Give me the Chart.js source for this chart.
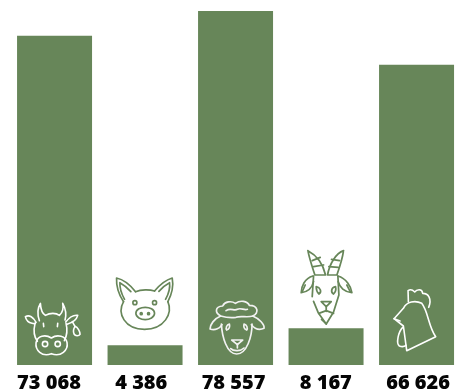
<!DOCTYPE html>
<html><head><meta charset="utf-8">
<style>html,body{margin:0;padding:0;background:#fff}#w{width:465px;height:389px;position:relative}</style>
<script src="https://cdn.jsdelivr.net/npm/chart.js@4"></script></head>
<body><div id="w"><canvas id="c"></canvas></div>
<script>
const tickLabels = ['73 068','4 386','78 557','8 167','66 626'];
const values = [73068,4386,78557,8167,66626];
const GREEN = '#678659';
const icons = [
 {cx:163.5,cy:285,color:'#fff',w:4.8,d:[
  'M118,152 C112,135 112,115 121,100 C122,118 126,130 136,136 C150,128 168,128 178,136 C187,128 191,115 188,100 C198,118 199,135 195,150',
  'M108,157 C100,142 88,133 76,140 C78,150 86,158 96,160 C100,161 104,161 106,160',
  'M197,156 C208,142 220,134 233,136 C230,148 220,157 201,163',
  'M105,160 C100,180 102,200 112,214','M198,160 C203,180 200,198 193,212',
  'M154,204 C135,192 112,198 108,218 C105,240 125,262 154,251 C183,262 205,240 201,218 C197,198 172,192 154,204',
  'M143,222 A8,8 0 1 1 127,222 A8,8 0 1 1 143,222','M181,222 A8,8 0 1 1 165,222 A8,8 0 1 1 181,222',
  'M130,160 L131,170','M173,160 L172,170','M217,155 L225,170',
  'M225,169 C233,172 240,185 240,193 C236,199 226,199 222,192 C219,185 221,175 225,169']},
 {cx:436.5,cy:285,color:GREEN,w:5,d:[
  'M372,95 C355,70 350,45 351,24 C370,28 392,45 408,65','M375,88 C365,70 360,55 361,38 C372,44 385,55 394,65',
  'M505,95 C518,70 522,45 518,24 C498,30 480,45 465,63','M498,88 C508,70 512,52 510,38 C498,44 486,55 478,64',
  'M408,65 C425,58 450,58 465,63',
  'M372,95 C352,130 375,178 435,178 C495,178 520,130 505,95',
  'M465,130 C465,118 450,112 437,112 C424,112 409,118 409,130 C409,142 424,149 437,149 C450,149 465,142 465,130',
  'M428,131 A3,3 0 1 1 422,131 A3,3 0 1 1 428,131','M450,131 A3,3 0 1 1 444,131 A3,3 0 1 1 450,131',
  'M412,98 A6,6 0 1 1 400,98 A6,6 0 1 1 412,98','M471,98 A6,6 0 1 1 459,98 A6,6 0 1 1 471,98']},
 {cx:136.5,cy:375,color:'#f2f2f2',w:5,d:[
  'M92,228 C74,218 74,200 98,198 C104,184 124,182 136,190 C150,180 172,182 178,196 C204,196 208,218 188,228 C172,234 152,226 138,232 C122,234 106,232 92,228',
  'M108,212 C122,202 132,214 142,208 C152,202 162,212 172,208',
  'M92,228 C72,236 60,254 60,267 C76,273 90,264 96,254','M188,228 C208,236 224,254 222,265 C206,272 192,264 184,254',
  'M94,252 C96,290 110,342 140,342 C170,342 186,290 186,252',
  'M110,270 C106,264 110,254 118,252 C120,260 118,268 110,270','M170,270 C174,264 170,254 162,252 C160,260 162,268 170,270',
  'M125,300 L158,300 L142,314 Z','M142,314 L142,324','M122,326 C130,334 152,334 162,324']},
 {cx:409.5,cy:375,color:GREEN,w:5.2,d:[
  'M355,32 C380,45 400,70 408,105 L376,105 C368,80 360,58 355,32','M368,62 L392,52','M372,80 L402,75',
  'M462,32 C440,40 420,70 414,105 L442,105 C450,82 458,60 462,32','M426,58 L450,62','M418,80 L446,82',
  'M372,108 L368,170 M372,184 L386,218 L410,252 L432,216 L448,165 L445,108',
  'M370,108 C345,115 335,140 335,158 C355,156 368,142 372,125','M347,135 L338,155','M445,108 C470,115 485,140 487,158 C465,156 450,142 446,125','M472,135 L482,155',
  'M380,140 C392,142 398,155 388,162 C382,156 380,148 380,140','M438,140 C426,142 422,155 432,162 C438,156 440,148 438,140',
  'M395,185 L425,185 L410,200 Z','M410,200 L410,214','M388,220 L410,212 L432,220','M396,238 L410,252']},
 {cx:679.5,cy:375,color:'#fff',w:4.8,d:[
  'M655,186 L654,152 C664,145 670,152 674,156 C680,148 696,145 698,160 C715,160 726,176 716,202',
  'M640,205 C650,185 675,180 695,190 C715,215 715,260 737,290 L650,332 L640,258 L612,236 L630,216 L640,205',
  'M630,243 L612,236','M638,262 C625,275 617,310 628,318 C636,321 644,319 648,316']}
];
const iconPlugin = {id:'icons',afterDatasetsDraw(ch){
  const c=ch.ctx,x=ch.scales.x,y=ch.scales.y;
  icons.forEach((ic,i)=>{
    c.save();c.translate(x.getPixelForValue(i),y.getPixelForValue(0));c.scale(1/3,1/3);c.translate(-ic.cx,-ic.cy);
    c.strokeStyle=ic.color;c.lineWidth=ic.w;c.lineJoin='round';c.lineCap='round';
    ic.d.forEach(p=>c.stroke(new Path2D(p)));c.restore();
  });
}};
new Chart(document.getElementById('c'),{type:'bar',plugins:[iconPlugin],
 data:{labels:tickLabels,datasets:[{data:values,backgroundColor:GREEN,borderWidth:0,barPercentage:0.8287,categoryPercentage:1,xAxisID:'x',yAxisID:'y'}]},
 options:{responsive:true,maintainAspectRatio:false,animation:false,
  layout:{padding:{left:9.3,right:3.2,top:0,bottom:0}},
  plugins:{legend:{display:false},tooltip:{enabled:false}},
  scales:{
   x:{position:'bottom',grid:{display:false},border:{display:false},ticks:{display:false},afterFit(s){s.height=0}},
   x2:{type:'linear',position:'bottom',offset:false,bounds:'data',min:-0.43,max:4.474,grid:{display:false,offset:false},border:{display:false},
      afterFit(s){s.height=24},
      afterBuildTicks(s){s.ticks=tickLabels.map((_,i)=>({value:i}))},
      ticks:{color:'#050505',padding:-2,maxRotation:0,autoSkip:false,callback:(v)=>tickLabels[v],
             font:{family:'"Open Sans"',size:20,weight:'800'}}},
   y:{display:false,min:0,max:81000}
  }}});
</script></body></html>
